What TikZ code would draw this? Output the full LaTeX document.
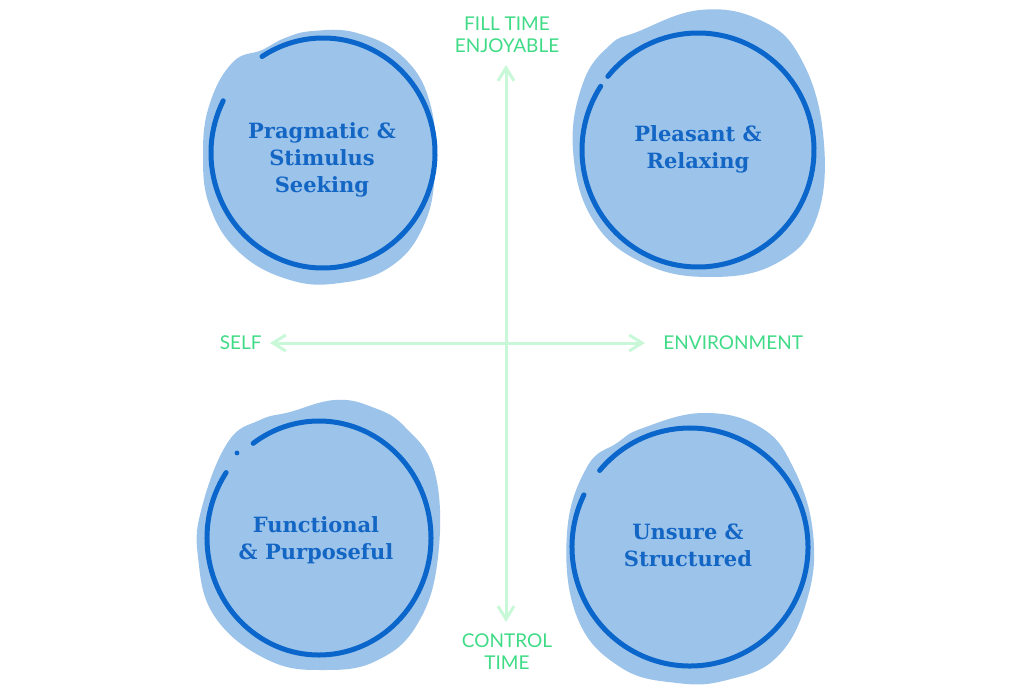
\documentclass[tikz,border=0pt]{standalone}
\usepackage{fontspec}
\setmainfont{DejaVu Serif}
\newfontfamily\axisfont{Lato}
\usetikzlibrary{arrows.meta,positioning}
\definecolor{blobfill}{HTML}{9CC3EA}
\definecolor{ringblue}{HTML}{0A66CB}
\definecolor{titleblue}{HTML}{1366C4}
\definecolor{axisline}{HTML}{C9F8D8}
\definecolor{axistext}{HTML}{3FDB86}

\begin{document}
\begin{tikzpicture}[x=0.5pt,y=-0.5pt,
  blob/.style={fill=blobfill},
  ring/.style={draw=ringblue,line width=2.5pt,line cap=round},
  title/.style={font=\bfseries\fontsize{10.5}{13.5}\selectfont,text=titleblue,align=center},
  axislabel/.style={font=\axisfont\fontsize{9.5}{11}\selectfont,text=axistext,align=center,inner sep=0pt},
  axis/.style={draw=axisline,line width=1.5pt,{Straight Barb[length=6.5pt,width=8pt]}-{Straight Barb[length=6.5pt,width=8pt]}}]
  \useasboundingbox (0,0) rectangle (1012,700);

  % background blobs
  \fill[blob] plot[smooth cycle,tension=0.7] coordinates {(313,31) (357,33) (403,57) (430,103) (435,170) (423,227) (390,267) (340,283) (290,280) (240,253) (210,207) (203,153) (210,103) (233,62) (262,50) (285,38)};
  \fill[blob] plot[smooth cycle,tension=0.7] coordinates {(700,10) (760,20) (800,57) (823,133) (817,217) (777,263) (710,277) (643,263) (593,220) (573,150) (583,83) (610,45) (637,32)};
  \fill[blob] plot[smooth cycle,tension=0.7] coordinates {(335,400) (372,407) (405,427) (435,473) (438,557) (418,623) (378,660) (325,670) (268,660) (215,617) (198,557) (202,507) (228,442) (260,420) (290,412)};
  \fill[blob] plot[smooth cycle,tension=0.7] coordinates {(703,413) (760,427) (793,467) (813,533) (807,600) (777,657) (727,680) (677,683) (620,667) (577,617) (567,533) (587,467) (617,443) (643,428)};

  % rings
  \coordinate (c1) at (323,153);
  \coordinate (c2) at (698,150);
  \coordinate (c3) at (319,538);
  \coordinate (c4) at (690,547);
  \draw[ring] (c1) ++(207:112 and 115) arc[start angle=207,end angle=-123,x radius=112,y radius=115];
  \draw[ring] (c2) ++(213:116 and 117) arc[start angle=213,end angle=-141,x radius=116,y radius=117];
  \draw[ring] (c3) ++(214:112 and 117) arc[start angle=214,end angle=-126,x radius=112,y radius=117];
  \fill[ringblue] (237,453) circle[radius=1.2pt];
  \draw[ring] (c4) ++(206:118 and 119) arc[start angle=206,end angle=-140,x radius=118,y radius=119];

  % titles
  \node[title] (prag) at (322,160) {Pragmatic \&\\Stimulus\\Seeking};
  \node[title] (pleas) at (698,149) {Pleasant \&\\Relaxing};
  \node[title] (func) at (316,540) {Functional\\\& Purposeful};
  \node[title] (unsure) at (688,545) {Unsure \&\\Structured};

  % axes
  \coordinate (top) at (506,65);
  \coordinate (bot) at (506,622);
  \coordinate (west) at (270,343);
  \coordinate (east) at (645,343);
  \draw[axis] (top) -- (bot);
  \draw[axis] (west) -- (east);
  \node[axislabel] (fill) at (507,35) {FILL TIME\\ENJOYABLE};
  \node[axislabel] (ctrl) at (507,652) {CONTROL\\TIME};
  \node[axislabel,left=4pt of west] (self) {SELF};
  \node[axislabel,right=9pt of east] (env) {ENVIRONMENT};
\end{tikzpicture}
\end{document}
